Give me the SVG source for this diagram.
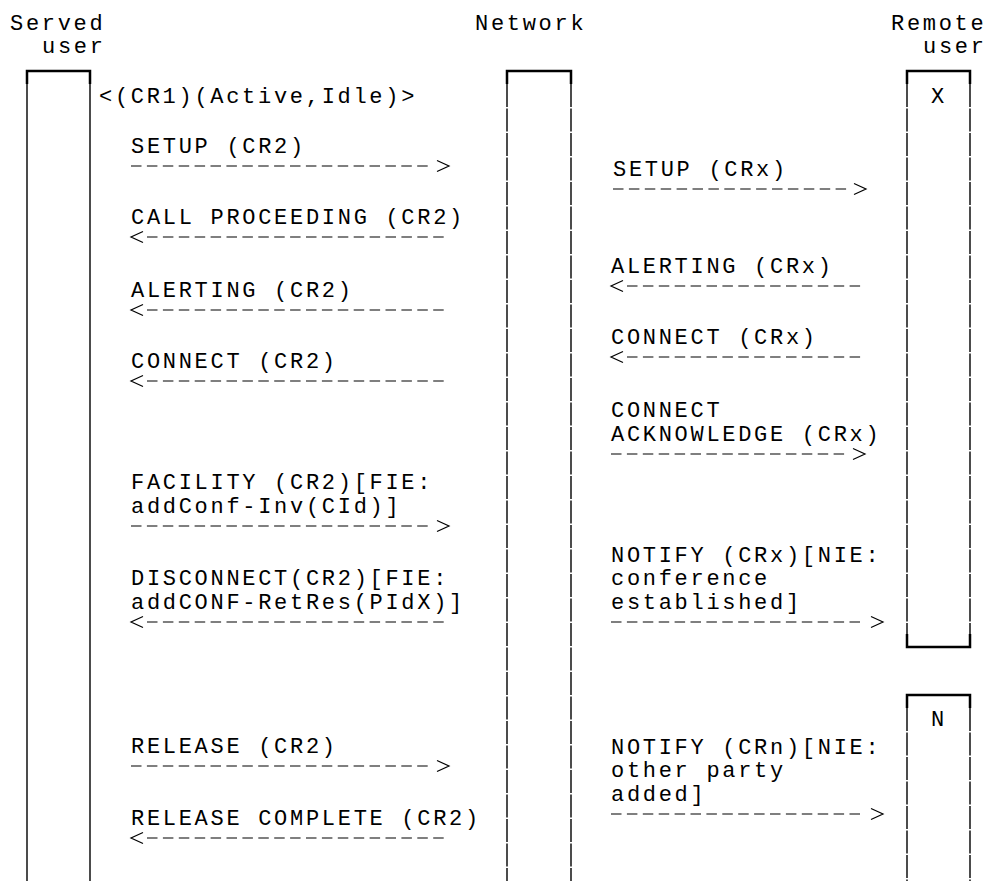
<svg xmlns="http://www.w3.org/2000/svg" width="988" height="881" viewBox="0 0 988 881">
<style>
text{font-family:"Liberation Mono","Courier New",monospace;font-size:22px;letter-spacing:2.7px;fill:#000}
.ll{stroke:#000;stroke-width:1.4;fill:none}
.lj{stroke:#000;stroke-width:1.4;fill:none;stroke-dasharray:23 1.5}
.bar{stroke:#000;stroke-width:2.5;fill:none}
.msg{stroke:#000;stroke-width:1.2;stroke-dasharray:10.5 5.4;fill:none}
.hd{stroke:#000;stroke-width:1.2;fill:none}
</style>
<rect width="988" height="881" fill="#fff"/>
<g id="served-user">
<text x="10" y="30">Served</text>
<text x="42" y="53">user</text>
<path class="bar" d="M27,84 V71 H90 V84"/>
<path class="ll" d="M27,84 V881 M90,84 V881"/>
</g>
<g id="network">
<text x="475" y="30">Network</text>
<path class="bar" d="M507,84 V71 H571 V84"/>
<path class="lj" d="M507,84 V881 M571,84 V881"/>
</g>
<g id="remote-user">
<text x="891" y="30">Remote</text>
<text x="923" y="53">user</text>
</g>
<g id="remote-x">
<path class="bar" d="M907,84 V71 H970 V84 M907,634 V647 H970 V634"/>
<path class="lj" d="M907,84 V634 M970,84 V634"/>
<text x="931" y="103">X</text>
</g>
<g id="remote-n">
<path class="bar" d="M907,708 V695 H970 V708"/>
<path class="lj" d="M907,708 V881 M970,708 V881"/>
<text x="931" y="726">N</text>
</g>
<g id="state">
<text x="99" y="103">&lt;(CR1)(Active,Idle)&gt;</text>
</g>
<g id="connectors">
<line class="msg" x1="131" y1="166" x2="428" y2="166"/><polyline class="hd" points="437,160.5 449,166 437,171.5"/>
<polyline class="hd" points="143,231.5 131,237 143,242.5"/><line class="msg" x1="147" y1="237" x2="444" y2="237"/>
<polyline class="hd" points="143,304.5 131,310 143,315.5"/><line class="msg" x1="147" y1="310" x2="444" y2="310"/>
<polyline class="hd" points="143,375.5 131,381 143,386.5"/><line class="msg" x1="147" y1="381" x2="444" y2="381"/>
<line class="msg" x1="131" y1="526" x2="428" y2="526"/><polyline class="hd" points="437,520.5 449,526 437,531.5"/>
<polyline class="hd" points="143,616.5 131,622 143,627.5"/><line class="msg" x1="147" y1="622" x2="444" y2="622"/>
<line class="msg" x1="131" y1="766" x2="428" y2="766"/><polyline class="hd" points="437,760.5 449,766 437,771.5"/>
<polyline class="hd" points="143,832.5 131,838 143,843.5"/><line class="msg" x1="147" y1="838" x2="444" y2="838"/>
<line class="msg" x1="613" y1="189" x2="847" y2="189"/><polyline class="hd" points="854,183.5 866,189 854,194.5"/>
<polyline class="hd" points="623,280.5 611,286 623,291.5"/><line class="msg" x1="627" y1="286" x2="862" y2="286"/>
<polyline class="hd" points="623,351.5 611,357 623,362.5"/><line class="msg" x1="627" y1="357" x2="862" y2="357"/>
<line class="msg" x1="611" y1="454" x2="845" y2="454"/><polyline class="hd" points="853,448.5 865,454 853,459.5"/>
<line class="msg" x1="611" y1="622" x2="861" y2="622"/><polyline class="hd" points="871,616.5 883,622 871,627.5"/>
<line class="msg" x1="611" y1="814" x2="861" y2="814"/><polyline class="hd" points="871,808.5 883,814 871,819.5"/>
</g>
<g id="labels">
<text x="131" y="152.5">SETUP (CR2)</text>
<text x="131" y="223.5">CALL PROCEEDING (CR2)</text>
<text x="131" y="296.5">ALERTING (CR2)</text>
<text x="131" y="367.5">CONNECT (CR2)</text>
<text x="131" y="489">FACILITY (CR2)[FIE:</text>
<text x="131" y="512.5">addConf-Inv(CId)]</text>
<text x="131" y="585">DISCONNECT(CR2)[FIE:</text>
<text x="131" y="608.5">addCONF-RetRes(PIdX)]</text>
<text x="131" y="752.5">RELEASE (CR2)</text>
<text x="131" y="824.5">RELEASE COMPLETE (CR2)</text>
<text x="613" y="175.5">SETUP (CRx)</text>
<text x="611" y="272.5">ALERTING (CRx)</text>
<text x="611" y="343.5">CONNECT (CRx)</text>
<text x="611" y="417">CONNECT</text>
<text x="611" y="440.5">ACKNOWLEDGE (CRx)</text>
<text x="611" y="561.5">NOTIFY (CRx)[NIE:</text>
<text x="611" y="585">conference</text>
<text x="611" y="608.5">established]</text>
<text x="611" y="753.5">NOTIFY (CRn)[NIE:</text>
<text x="611" y="777">other party</text>
<text x="611" y="800.5">added]</text>
</g>
</svg>
